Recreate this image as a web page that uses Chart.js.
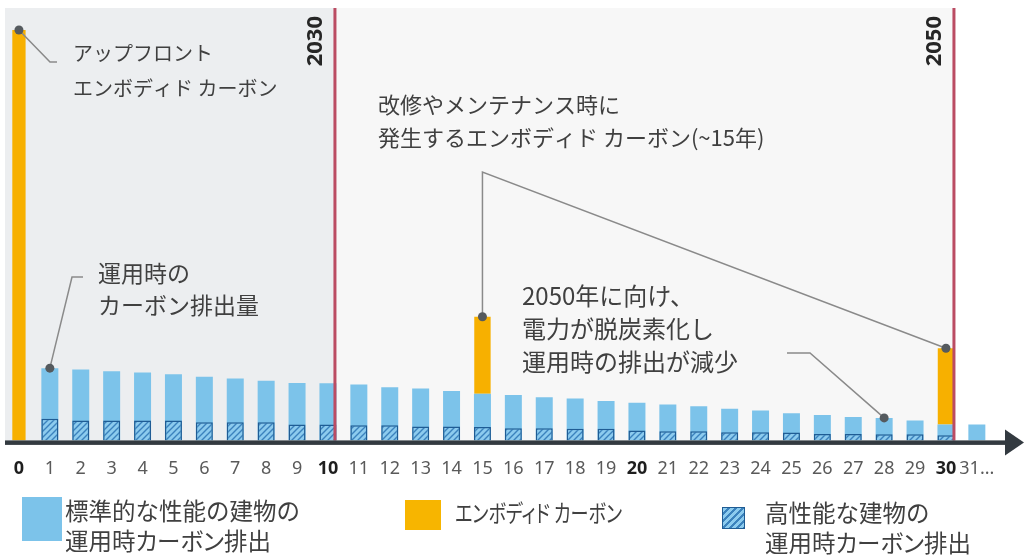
<!DOCTYPE html>
<html>
<head>
<meta charset="utf-8">
<script src="https://cdn.jsdelivr.net/npm/chart.js"></script>
<style>
  body { margin: 0; background: #fff; width: 1025px; height: 557px; position: relative; overflow: hidden; }
  #wrap { position: absolute; left: 0; top: 0; width: 1025px; height: 498px; }
  .lg { position: absolute; font-family: "Noto Sans CJK JP", sans-serif; font-size: 23.5px; line-height: 30px; color: #404040; white-space: nowrap; }
  .kana { font-feature-settings: "palt"; }
  .narrow { display: inline-block; transform: scaleX(0.77); transform-origin: left center; }
  .sw { position: absolute; }
</style>
</head>
<body>
<div id="wrap"><canvas id="chart"></canvas></div>

<div class="sw" style="left:22px;top:497px;width:40px;height:44px;background:#7cc3ea"></div>
<div class="lg" style="left:65px;top:495px">標準的な性能の建物の<br>運用時<span class="kana">カーボン</span>排出</div>
<div class="sw" style="left:405px;top:500px;width:36px;height:30px;background:#f7b500"></div>
<div class="lg kana" style="left:455px;top:497px"><span class="narrow">エンボディド カーボン</span></div>
<div class="sw" style="left:722px;top:507px;width:21px;height:20px;border:1.5px solid #1f5c94;background:repeating-linear-gradient(135deg,#8ccbee 0 3px,#3b82bd 3px 5px)"></div>
<div class="lg" style="left:765px;top:497px">高性能な建物の<br>運用時<span class="kana">カーボン</span>排出</div>

<script>
// 経過年数（0 = 竣工）
const years = ["0","1","2","3","4","5","6","7","8","9","10","11","12","13","14","15",
  "16","17","18","19","20","21","22","23","24","25","26","27","28","29","30","31..."];

// 標準的な性能の建物の運用時カーボン排出
const standardOps = [null, 16.7, 16.4, 16.0, 15.7, 15.3, 14.7, 14.3, 13.8, 13.3, 13.2,
  12.9, 12.3, 12.0, 11.4, 10.8, 10.5, 10.0, 9.7, 9.1, 8.7,
  8.3, 7.9, 7.3, 6.9, 6.3, 5.9, 5.4, 5.2, 4.6, 3.7, 3.7];

// 高性能な建物の運用時カーボン排出
const highPerfOps = [null, 5.0, 4.6, 4.6, 4.6, 4.6, 4.2, 4.2, 4.2, 3.7, 3.7,
  3.5, 3.5, 3.2, 3.2, 3.1, 2.8, 2.8, 2.7, 2.7, 2.3,
  2.1, 2.1, 1.9, 1.9, 1.8, 1.5, 1.5, 1.4, 1.4, 1.2, null];

// エンボディド カーボン（改修・メンテナンス時）
const embodied = [];
years.forEach((y, i) => embodied.push(i === 15 ? 17.8 : i === 30 ? 17.6 : null));

// アップフロント エンボディド カーボン
const upfront = [94.9];

const boldYears = ["0", "10", "20", "30"];

// ==============================
// ハッチング用パターン
// ==============================
function hatchPattern() {
  const c = document.createElement("canvas");
  c.width = 6; c.height = 6;
  const g = c.getContext("2d");
  g.fillStyle = "#8ccbee";
  g.fillRect(0, 0, 6, 6);
  g.strokeStyle = "#3b82bd";
  g.lineWidth = 1.4;
  g.beginPath();
  g.moveTo(0, 6); g.lineTo(6, 0);
  g.moveTo(-3, 3); g.lineTo(3, -3);
  g.moveTo(3, 9); g.lineTo(9, 3);
  g.stroke();
  return g.createPattern(c, "repeat");
}

// ==============================
// 背景・年ライン・軸・注記
// ==============================
const decor = {
  id: "decor",
  beforeDatasetsDraw(chart) {
    const { ctx, chartArea } = chart;
    const std = chart.getDatasetMeta(1).data;
    const x2030 = std[10].x + 7;
    const x2050 = std[30].x + 8;
    ctx.save();
    ctx.fillStyle = "#eceef0";
    ctx.fillRect(5, chartArea.top, x2030 - 5, chartArea.bottom - chartArea.top);
    ctx.fillStyle = "#f7f7f7";
    ctx.fillRect(x2030, chartArea.top, x2050 - x2030, chartArea.bottom - chartArea.top);
    ctx.restore();
  },
  afterDatasetsDraw(chart) {
    const { ctx, chartArea } = chart;
    const std = chart.getDatasetMeta(1).data;
    const emb = chart.getDatasetMeta(2).data;
    const up = chart.getDatasetMeta(3).data;
    const base = chart.scales.y.getPixelForValue(0);
    const x2030 = std[10].x + 7;
    const x2050 = std[30].x + 8;
    ctx.save();

    // 年ライン
    ctx.strokeStyle = "#bb4c63";
    ctx.lineWidth = 3;
    [x2030, x2050].forEach(x => {
      ctx.beginPath();
      ctx.moveTo(x, chartArea.top);
      ctx.lineTo(x, base);
      ctx.stroke();
    });
    ctx.fillStyle = "#262626";
    ctx.font = "bold 22px 'Noto Sans'";
    ctx.textAlign = "right";
    ctx.textBaseline = "middle";
    [[x2030, "2030"], [x2050, "2050"]].forEach(([x, t]) => {
      ctx.save();
      ctx.translate(x - 19, chartArea.top + 8);
      ctx.rotate(-Math.PI / 2);
      ctx.fillText(t, 0, 0);
      ctx.restore();
    });

    // 横軸と矢印
    ctx.fillStyle = "#333a40";
    ctx.fillRect(5, base, 1003, 4.5);
    ctx.beginPath();
    ctx.moveTo(1005, base - 11);
    ctx.lineTo(1024, base + 2);
    ctx.lineTo(1005, base + 15);
    ctx.closePath();
    ctx.fill();

    // 引き出し線
    ctx.strokeStyle = "#8a8a8a";
    ctx.lineWidth = 1.5;
    const line = pts => {
      ctx.beginPath();
      ctx.moveTo(pts[0][0], pts[0][1]);
      pts.slice(1).forEach(p => ctx.lineTo(p[0], p[1]));
      ctx.stroke();
    };
    const b0 = up[0], b1 = std[1], b15 = emb[15], b30 = emb[30], b28 = std[28];
    line([[b0.x, b0.y], [50, 62], [57, 62]]);
    line([[b1.x, b1.y], [72, 277], [83, 277]]);
    line([[b15.x, b15.y], [b15.x, 172], [b30.x, b30.y]]);
    line([[787, 353], [810, 353], [b28.x, b28.y]]);
    ctx.fillStyle = "#555a5e";
    [[b0.x, b0.y], [b1.x, b1.y], [b15.x, b15.y], [b30.x, b30.y], [b28.x, b28.y]].forEach(([x, y]) => {
      ctx.beginPath();
      ctx.arc(x, y, 4.5, 0, Math.PI * 2);
      ctx.fill();
    });

    // 注記テキスト
    ctx.fillStyle = "#404040";
    ctx.textAlign = "left";
    ctx.textBaseline = "middle";
    const text = (lines, x, y, size, gap) => {
      ctx.font = size + "px 'Noto Sans CJK JP'";
      lines.forEach((t, i) => ctx.fillText(t, x, y + i * gap));
    };
    text(["アップフロント", "エンボディド カーボン"], 73, 53, 20, 35);
    text(["運用時の", "カーボン排出量"], 98, 273, 23, 32);
    text(["改修やメンテナンス時に", "発生するエンボディド カーボン(~15年)"], 378, 105, 22, 33);
    text(["2050年に向け、", "電力が脱炭素化し", "運用時の排出が減少"], 522, 296, 24, 33);
    ctx.restore();
  }
};

new Chart(document.getElementById("chart"), {
  type: "bar",
  data: {
    labels: years,
    datasets: [
      {
        label: "高性能な建物の運用時カーボン排出",
        data: highPerfOps,
        stack: "hp",
        order: 0,
        backgroundColor: hatchPattern(),
        borderColor: "#1f5c94",
        borderWidth: 1.5,
        barPercentage: 0.55
      },
      {
        label: "標準的な性能の建物の運用時カーボン排出",
        data: standardOps,
        stack: "std",
        order: 1,
        backgroundColor: "#7cc3ea",
        barPercentage: 0.55
      },
      {
        label: "エンボディド カーボン",
        data: embodied,
        stack: "std",
        order: 1,
        backgroundColor: "#f7b000",
        barPercentage: 0.53
      },
      {
        label: "アップフロント エンボディド カーボン",
        data: upfront,
        stack: "std",
        order: 1,
        backgroundColor: "#f7b000",
        barPercentage: 0.43
      }
    ]
  },
  options: {
    responsive: true,
    maintainAspectRatio: false,
    animation: false,
    layout: { padding: { left: 3.5, right: 32.7, top: 8, bottom: 0 } },
    datasets: { bar: { grouped: false, categoryPercentage: 1 } },
    plugins: { legend: { display: false }, tooltip: { enabled: false } },
    scales: {
      x: {
        stacked: true,
        offset: true,
        grid: { display: false, drawTicks: false },
        border: { display: false },
        afterFit: s => { s.paddingLeft = 0; s.paddingRight = 0; },
        ticks: {
          autoSkip: false,
          maxRotation: 0,
          padding: 18,
          font: c => ({ family: "'Noto Sans'", size: 18, weight: boldYears.includes(years[c.index]) ? "bold" : "normal" }),
          color: c => boldYears.includes(years[c.index]) ? "#1e1e1e" : "#5a5a5a"
        }
      },
      y: { stacked: true, display: false, min: 0, max: 100 }
    }
  },
  plugins: [decor]
});
</script>
</body>
</html>
